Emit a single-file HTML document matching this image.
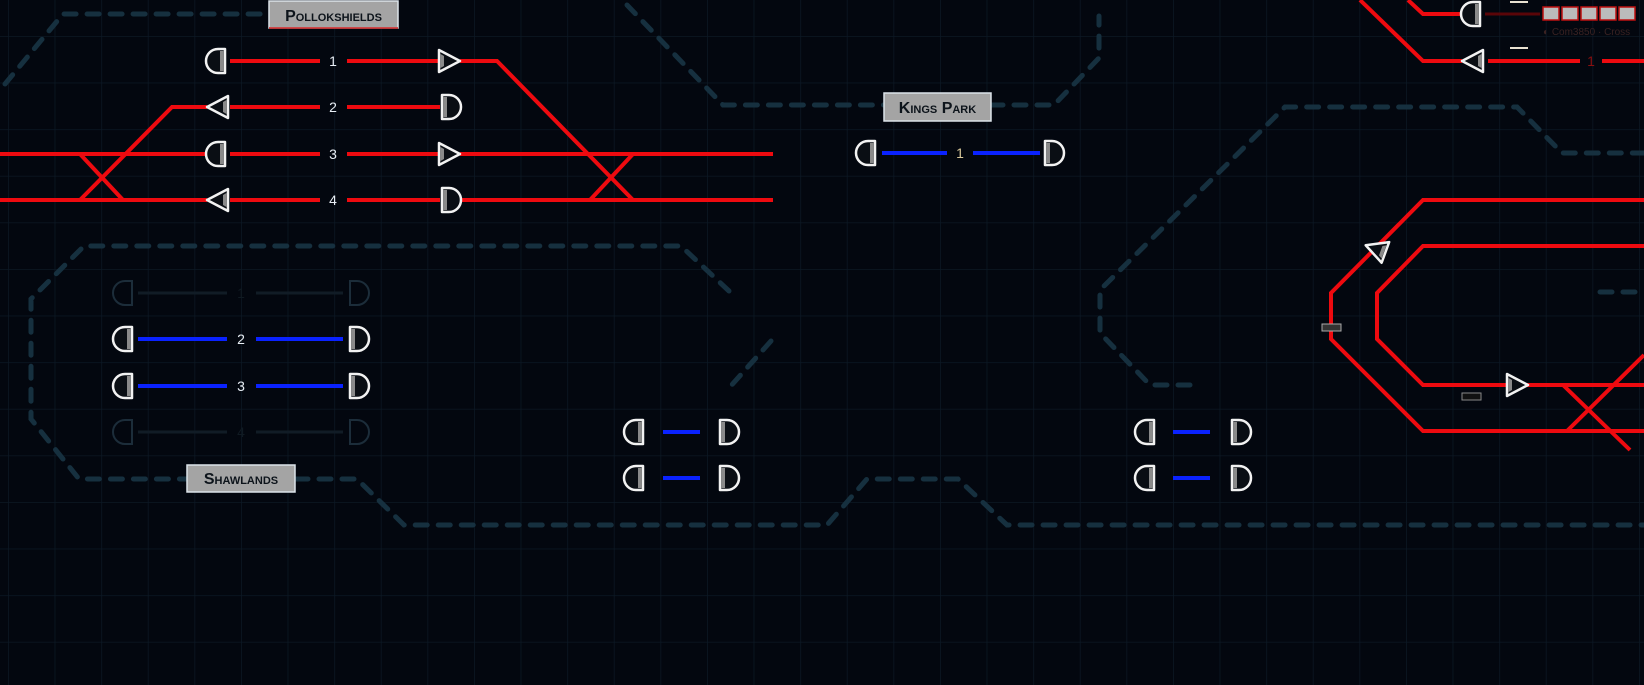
<!DOCTYPE html>
<html><head><meta charset="utf-8"><style>
html,body{margin:0;padding:0;background:#03070f;width:1644px;height:685px;overflow:hidden}
svg{display:block}
.lbl{font-family:"Liberation Sans",sans-serif;font-weight:bold;font-variant:small-caps;font-size:16px;fill:#0d141b}
.num{font-family:"Liberation Sans",sans-serif;font-size:14px;fill:#e8eef5;text-anchor:middle}
</style></head><body>
<svg width="1644" height="685" viewBox="0 0 1644 685" xmlns="http://www.w3.org/2000/svg">
<defs>
<pattern id="g" x="8" y="36" width="46.6" height="46.6" patternUnits="userSpaceOnUse">
<path d="M0 0V46.6M0 0H46.6" stroke="#0c1824" stroke-width="1.5" fill="none"/>
</pattern>
<g id="sl"><path d="M7 -12H0A12 12 0 0 0 0 12H7Z" fill="#0a0e14" stroke="#f2f2f2" stroke-width="2.5" stroke-linejoin="round"/><rect x="2" y="-10" width="3.5" height="20" fill="#8a8a8a"/></g>
<g id="sr"><path d="M-7 -12H0A12 12 0 0 1 0 12H-7Z" fill="#0a0e14" stroke="#f2f2f2" stroke-width="2.5" stroke-linejoin="round"/><rect x="-5.5" y="-10" width="3.5" height="20" fill="#8a8a8a"/></g>
<g id="tr"><path d="M-10 -11L11 0L-10 11Z" fill="#0a0e14" stroke="#f2f2f2" stroke-width="2.5" stroke-linejoin="round"/><path d="M-8.5 -7L-5 -5V5L-8.5 7Z" fill="#8a8a8a"/></g>
<g id="tl"><path d="M10 -11L-11 0L10 11Z" fill="#0a0e14" stroke="#f2f2f2" stroke-width="2.5" stroke-linejoin="round"/><path d="M8.5 -7L5 -5V5L8.5 7Z" fill="#8a8a8a"/></g>
<g id="dl"><path d="M7 -12H0A12 12 0 0 0 0 12H7Z" fill="none" stroke="#1c2d3a" stroke-width="2"/></g>
<g id="dr"><path d="M-7 -12H0A12 12 0 0 1 0 12H-7Z" fill="none" stroke="#1c2d3a" stroke-width="2"/></g>
</defs>
<rect width="1644" height="685" fill="#03070f"/>
<rect width="1644" height="685" fill="url(#g)"/>

<g fill="none" stroke="#16303f" stroke-width="5" stroke-dasharray="12 11" stroke-linecap="round">
<path d="M5 84L63 14H268"/>
<path d="M627 5L723 105H884"/>
<path d="M991 105H1054L1099 58V16"/>
<path d="M729 291L681 246H84L31 299V419L79 479H187"/>
<path d="M296 479H357L404 525H827L867 479H958L1007 525H1644"/>
<path d="M771 341L729 388"/>
<path d="M1190 385H1150L1100 333V290L1285 107H1517L1562 153H1644"/>
<path d="M1600 292H1644"/>
</g>

<g fill="none" stroke="#ee0a0f" stroke-width="4" stroke-linejoin="miter">
<path d="M230 61H320M347 61H440"/>
<path d="M460 61H497L633 200H773"/>
<path d="M230 107H320M347 107H440"/>
<path d="M207 107H172L80 200"/>
<path d="M0 154H207M230 154H320M347 154H440M460 154H773"/>
<path d="M0 200H207M230 200H320M347 200H440M460 200H773"/>
<path d="M80 154L123 200"/>
<path d="M590 200L633 154"/>
<path d="M1360 0L1423 61H1462M1488 61H1580M1602 61H1644"/>
<path d="M1408 0L1423 14H1462"/>
<path d="M1644 200H1423L1331 293V339L1423 431H1644"/>
<path d="M1644 246H1423L1377 293V339L1423 385H1644"/>
<path d="M1563 385L1630 450M1567 431L1644 355"/>
</g>
<path d="M1485 14H1540" stroke="#5a0508" stroke-width="3"/>

<g stroke="#0a22ff" stroke-width="4">
<path d="M882 153H947M973 153H1040"/>
<path d="M138 339H227M256 339H343M138 386H227M256 386H343"/>
<path d="M663 432H700M663 478H700M1173 432H1210M1173 478H1210"/>
</g>
<g stroke="#111c26" stroke-width="3"><path d="M138 293H227M256 293H343M138 432H227M256 432H343"/></g>

<use href="#sl" x="218" y="61"/><use href="#tr" x="449" y="61"/>
<use href="#tl" x="218" y="107"/><use href="#sr" x="449" y="107"/>
<use href="#sl" x="218" y="154"/><use href="#tr" x="449" y="154"/>
<use href="#tl" x="218" y="200"/><use href="#sr" x="449" y="200"/>
<use href="#sl" x="868" y="153"/><use href="#sr" x="1052" y="153"/>
<use href="#dl" x="125" y="293"/><use href="#dr" x="357" y="293"/>
<use href="#sl" x="125" y="339"/><use href="#sr" x="357" y="339"/>
<use href="#sl" x="125" y="386"/><use href="#sr" x="357" y="386"/>
<use href="#dl" x="125" y="432"/><use href="#dr" x="357" y="432"/>
<use href="#sl" x="636" y="432"/><use href="#sr" x="727" y="432"/>
<use href="#sl" x="636" y="478"/><use href="#sr" x="727" y="478"/>
<use href="#sl" x="1147" y="432"/><use href="#sr" x="1239" y="432"/>
<use href="#sl" x="1147" y="478"/><use href="#sr" x="1239" y="478"/>
<use href="#sl" x="1473" y="14"/><use href="#tl" x="1473" y="61"/>
<use href="#tr" x="1517" y="385"/>
<g transform="translate(1376 249) rotate(20)"><use href="#tl"/></g>

<text class="num" x="333" y="66">1</text>
<text class="num" x="333" y="112">2</text>
<text class="num" x="333" y="159">3</text>
<text class="num" x="333" y="205">4</text>
<text class="num" x="960" y="158" style="fill:#d8c89a">1</text>
<text class="num" x="241" y="298" style="fill:#101a22">1</text>
<text class="num" x="241" y="344">2</text>
<text class="num" x="241" y="391">3</text>
<text class="num" x="241" y="437" style="fill:#101a22">4</text>
<text class="num" x="1591" y="66" style="fill:#8a1010">1</text>

<rect x="1322" y="324" width="19" height="7" fill="#333" stroke="#aaa" stroke-width="1"/>
<rect x="1462" y="393" width="19" height="7" fill="#111" stroke="#888" stroke-width="1"/>
<path d="M1510 2H1528M1510 48H1528" stroke="#e8e0d0" stroke-width="2"/>
<g stroke="#c01010" stroke-width="1.5" fill="#bbb">
<rect x="1543" y="7" width="16" height="13"/><rect x="1562" y="7" width="16" height="13"/><rect x="1581" y="7" width="16" height="13"/><rect x="1600" y="7" width="16" height="13"/><rect x="1619" y="7" width="16" height="13"/>
</g>
<text x="1543" y="35" font-family="Liberation Sans,sans-serif" font-size="10" fill="#3a2222">◐ Com3850 · Cross</text>

<rect x="269" y="1" width="129" height="27" fill="#a4a4a4" stroke="#dce4ea" stroke-width="1.5"/>
<path d="M269 28H398" stroke="#d02020" stroke-width="1.5"/>
<text class="lbl" x="333.5" y="21" text-anchor="middle">Pollokshields</text>
<rect x="884" y="93" width="107" height="28" fill="#a4a4a4" stroke="#dce4ea" stroke-width="1.5"/>
<text class="lbl" x="937.5" y="113" text-anchor="middle">Kings Park</text>
<rect x="187" y="465" width="108" height="27" fill="#a4a4a4" stroke="#dce4ea" stroke-width="1.5"/>
<text class="lbl" x="241" y="484" text-anchor="middle">Shawlands</text>
</svg>
</body></html>
